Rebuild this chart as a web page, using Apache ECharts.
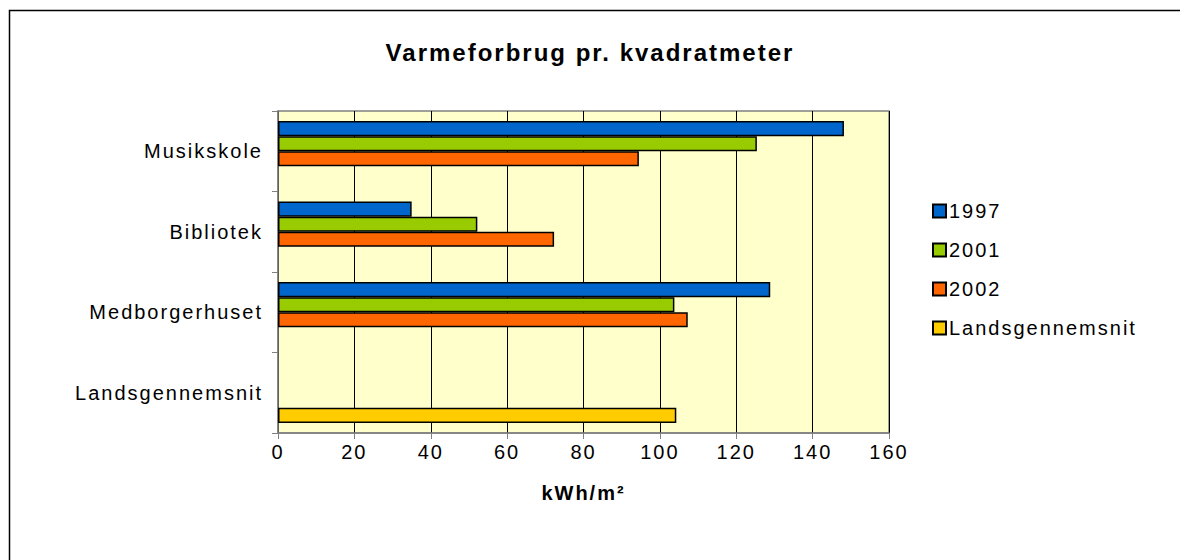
<!DOCTYPE html>
<html>
<head>
<meta charset="utf-8">
<script src="https://cdn.jsdelivr.net/npm/echarts@6/dist/echarts.min.js"></script>
<style>
html,body{margin:0;padding:0;background:#fff;}
#chart{width:1180px;height:560px;}
#chart text{letter-spacing:2px;}
</style>
</head>
<body>
<div id="chart"></div>
<script>
const categories = ['Musikskole', 'Bibliotek', 'Medborgerhuset', 'Landsgennemsnit'];
const seriesNames = ['1997', '2001', '2002', 'Landsgennemsnit'];
const values1997 = [148.2, 35.0, 128.9, null];
const values2001 = [125.4, 52.2, 103.8, null];
const values2002 = [94.5, 72.3, 107.3, null];
const valuesLands = [null, null, null, 104.3];
const xTicks = [0, 20, 40, 60, 80, 100, 120, 140, 160];
const colors = ['#0066CC', '#99CC00', '#FF6600', '#FFCC00'];

const font = 'Liberation Sans, Arial, sans-serif';
const allValues = [values1997, values2001, values2002, valuesLands];

const chart = echarts.init(document.getElementById('chart'), null, {renderer: 'svg'});
chart.setOption({
  animation: false,
  backgroundColor: '#ffffff',
  graphic: [{
    type: 'rect', silent: true, z: -10,
    shape: {x: 9.5, y: 10.5, width: 1300, height: 700},
    style: {fill: 'none', stroke: '#000', lineWidth: 1.5}
  }],
  title: {
    text: 'Varmeforbrug pr. kvadratmeter',
    left: 'center', top: 35,
    textStyle: {fontFamily: font, fontWeight: 'bold', fontSize: 24, color: '#000'}
  },
  legend: {
    orient: 'vertical', left: 927, top: 196,
    itemWidth: 13, itemHeight: 13, itemGap: 19,
    icon: 'rect',
    data: seriesNames,
    textStyle: {fontFamily: font, fontSize: 20, color: '#000', padding: [0, 0, 0, -2]}
  },
  grid: {
    left: 278, right: 291, top: 111, bottom: 127,
    show: true, backgroundColor: '#FFFFCC', borderColor: '#808080', borderWidth: 1.5
  },
  xAxis: {
    type: 'value', min: xTicks[0], max: xTicks[xTicks.length - 1], interval: 20,
    name: 'kWh/m²', nameLocation: 'middle', nameGap: 50,
    nameTextStyle: {fontFamily: font, fontWeight: 'bold', fontSize: 20, color: '#000'},
    axisLine: {show: true, lineStyle: {color: '#808080', width: 1.5}},
    axisTick: {show: true, length: 6, lineStyle: {color: '#808080'}},
    axisLabel: {fontFamily: font, fontSize: 20, color: '#000', margin: 9},
    splitLine: {show: true, lineStyle: {color: '#000', width: 1}}
  },
  yAxis: {
    type: 'category', data: categories, inverse: true,
    axisLine: {show: true, lineStyle: {color: '#808080', width: 1.5}},
    axisTick: {show: true, length: 6, lineStyle: {color: '#808080'}},
    axisLabel: {fontFamily: font, fontSize: 20, color: '#000', margin: 15}
  },
  series: seriesNames.map((n, i) => ({
    name: n, type: 'bar', data: allValues[i],
    barGap: '0%', barCategoryGap: '25%',
    itemStyle: {color: colors[i], borderColor: '#000', borderWidth: 1.5}
  }))
});
</script>
</body>
</html>
